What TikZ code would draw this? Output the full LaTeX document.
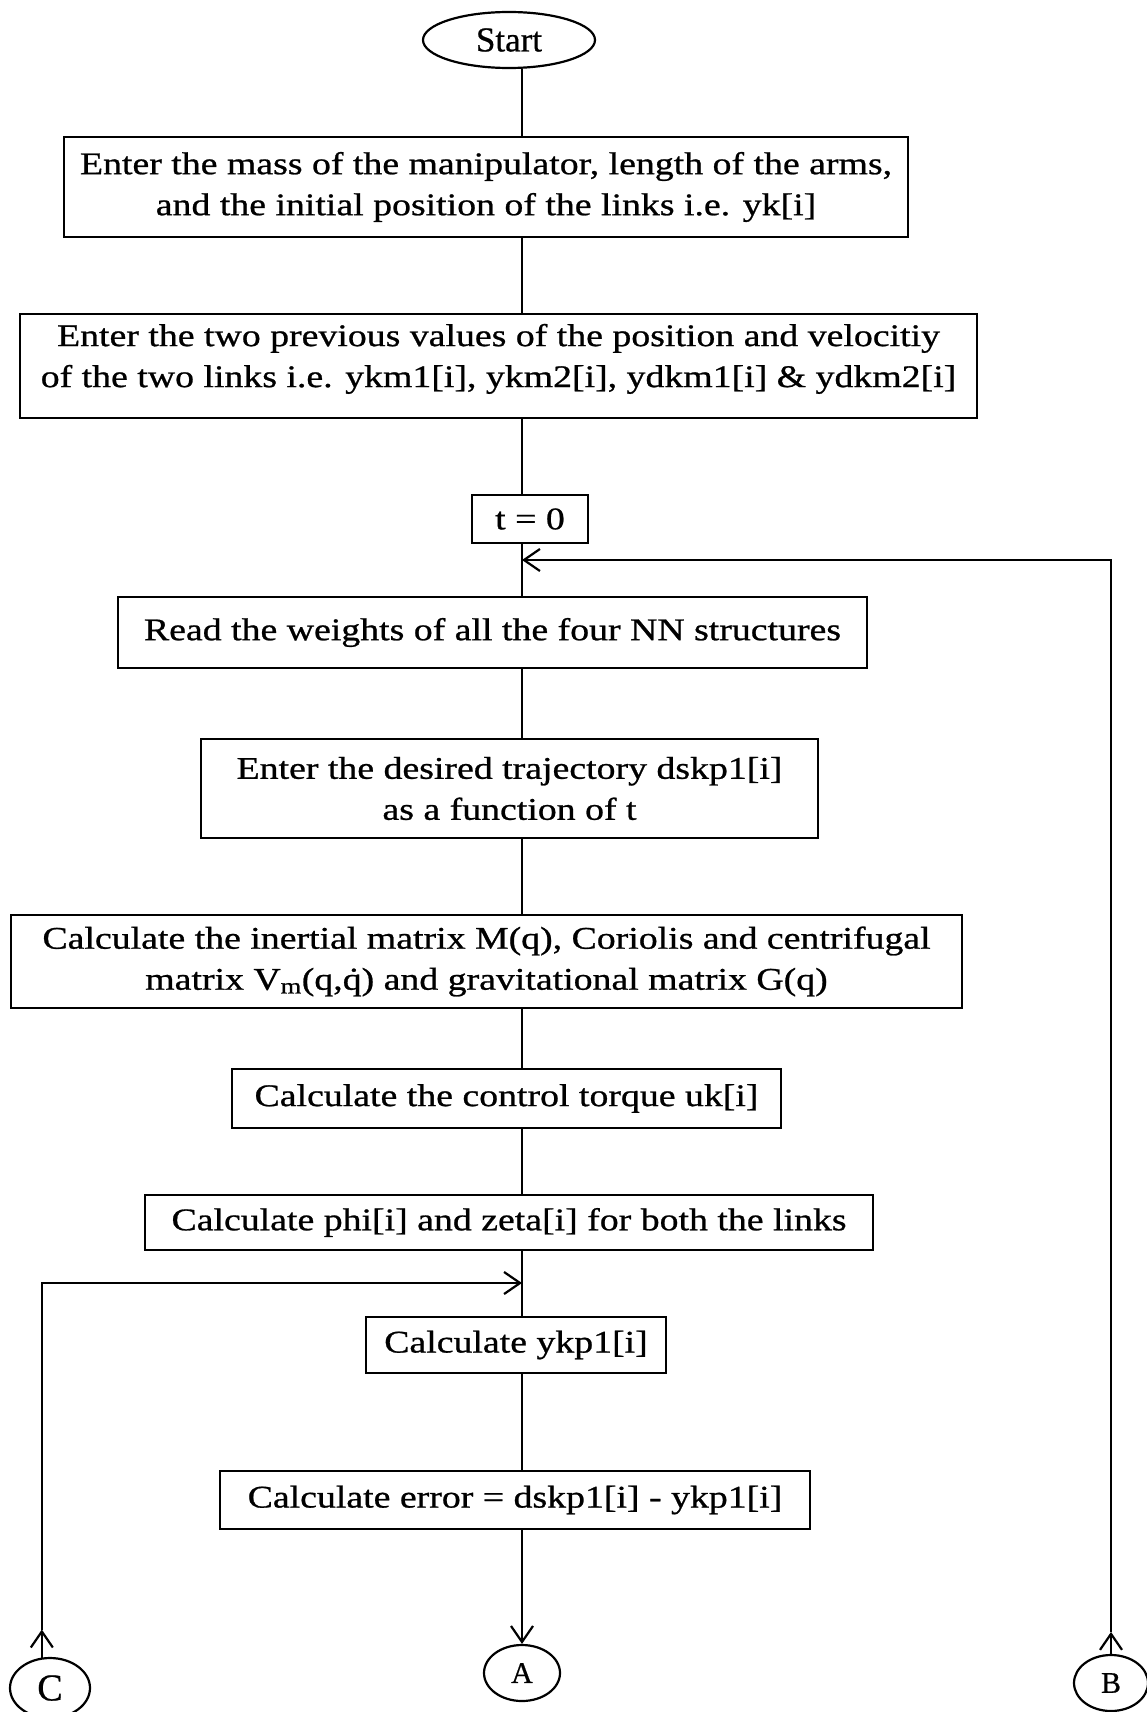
\documentclass[tikz,border=0pt]{standalone}
\usepackage{fontspec}
\setmainfont[FakeStretch=1.2,FakeBold=0.8]{Liberation Serif}
\newfontfamily\plainserif[FakeBold=0.6]{Liberation Serif}
\usetikzlibrary{shapes.geometric,arrows.meta}
\begin{document}
\begin{tikzpicture}[x=1pt,y=-1pt,
  every node/.style={font=\fontsize{31.5}{41}\selectfont},
  box/.style={draw, line width=2.4pt, align=center, inner sep=0pt},
  term/.style={draw, ellipse, line width=2.2pt, inner sep=0pt},
  link/.style={line width=2.2pt},
  flow/.style={link, -{Straight Barb[length=16pt,width=22pt,line width=2.2pt]}},
]
\useasboundingbox (0,0) rectangle (1147,1712);

% terminal and off-page connectors
\node[term, minimum width=172pt, minimum height=56pt,
      font=\plainserif\fontsize{35}{40}\selectfont] (start) at (509,40) {Start};
\node[term, minimum width=76pt, minimum height=56pt,
      font=\plainserif\fontsize{30}{34}\selectfont] (A) at (522,1673) {A};
\node[term, minimum width=74pt, minimum height=56pt,
      font=\plainserif\fontsize{30}{34}\selectfont] (B) at (1111,1683) {B};
\node[term, minimum width=80pt, minimum height=60pt,
      font=\plainserif\fontsize{38}{40}\selectfont] (C) at (50,1688) {C};

% process boxes
\node[box, minimum width=844pt, minimum height=100pt] (b1) at (486,187)
  {Enter the mass of the manipulator, length of the arms,\\and the initial position of the links i.e. yk[i]};
\node[box, minimum width=957pt, minimum height=104pt] (b2) at (498.5,366)
  {Enter the two previous values of the position and velocitiy\\of the two links i.e. ykm1[i], ykm2[i], ydkm1[i] \& ydkm2[i]\\[-20pt]\rule{0pt}{0pt}};
\node[box, minimum width=116pt, minimum height=48pt] (t0) at (530,519) {t = 0};
\node[box, minimum width=749pt, minimum height=71pt] (read) at (492.5,632.5)
  {Read the weights of all the four NN structures};
\node[box, minimum width=617pt, minimum height=99pt] (desired) at (509.5,788.5)
  {Enter the desired trajectory dskp1[i]\\as a function of t};
\node[box, minimum width=951pt, minimum height=93pt] (inertial) at (486.5,961.5)
  {Calculate the inertial matrix M(q), Coriolis and centrifugal\\matrix V\textsubscript{m}(q,\.{q}) and gravitational matrix G(q)};
\node[box, minimum width=549pt, minimum height=59pt] (torque) at (506.5,1098.5)
  {Calculate the control torque uk[i]};
\node[box, minimum width=728pt, minimum height=55pt] (phi) at (509,1222.5)
  {Calculate phi[i] and zeta[i] for both the links};
\node[box, minimum width=300pt, minimum height=56pt] (ykp) at (516,1345)
  {Calculate ykp1[i]};
\node[box, minimum width=590pt, minimum height=58pt] (err) at (515,1500)
  {Calculate error = dskp1[i] - ykp1[i]};

% main flow line
\coordinate (trunk) at (522,0);
\draw[link] (start.south -| trunk) -- (b1.north -| trunk);
\draw[link] (b1.south -| trunk) -- (b2.north -| trunk);
\draw[link] (b2.south -| trunk) -- (t0.north -| trunk);
\draw[link] (t0.south -| trunk) -- (read.north -| trunk);
\draw[link] (read.south -| trunk) -- (desired.north -| trunk);
\draw[link] (desired.south -| trunk) -- (inertial.north -| trunk);
\draw[link] (inertial.south -| trunk) -- (torque.north -| trunk);
\draw[link] (torque.south -| trunk) -- (phi.north -| trunk);
\draw[link] (phi.south -| trunk) -- (ykp.north -| trunk);
\draw[link] (ykp.south -| trunk) -- (err.north -| trunk);
\draw[flow] (err.south -| trunk) -- (A.north);

% return from B to the top of the loop
\coordinate (loopB) at (1111,560);
\draw[flow] (B.north) -- ([yshift=22pt]B.north);
\draw[flow] ([yshift=22pt]B.north) -- (loopB) -- (loopB -| trunk);

% return from C into the inner loop
\coordinate (loopC) at (0,1283);
\draw[flow] (C.105) -- ([yshift=28pt]C.105);
\draw[flow] ([yshift=28pt]C.105) -- (C.105 |- loopC) -- (loopC -| trunk);
\end{tikzpicture}
\end{document}
